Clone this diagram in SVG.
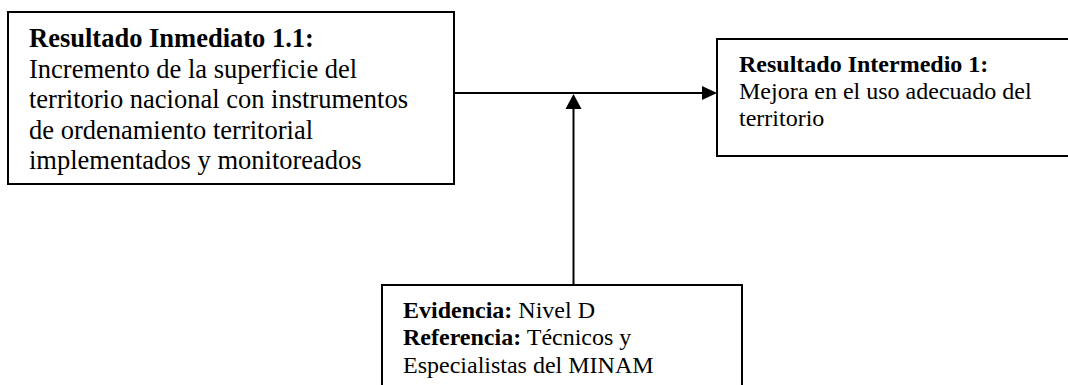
<svg xmlns="http://www.w3.org/2000/svg" width="1068" height="385" viewBox="0 0 1068 385">
<style>
.box{fill:#fff;stroke:#000;stroke-width:2}
.t{font-family:"Liberation Serif","Times New Roman",serif;fill:#000}
.b{font-weight:bold}
.l1{font-size:26.5px}
.l2{font-size:24px}
.con{stroke:#000;stroke-width:2;fill:none}
.ah{fill:#000}
</style>
<rect width="1068" height="385" fill="#fff"/>
<g id="connectors">
<line class="con" x1="454" y1="93" x2="704" y2="93"/>
<polygon class="ah" points="717,93 702,86 702,100"/>
<line class="con" x1="573.5" y1="285" x2="573.5" y2="107"/>
<polygon class="ah" points="573.5,94 565.5,109 581.5,109"/>
</g>
<g id="node-ri11">
<rect class="box" x="8" y="12" width="446" height="172"/>
<text class="t l1"><tspan class="b" x="29" y="47">Resultado Inmediato 1.1:</tspan><tspan x="29" y="77.5">Incremento de la superficie del</tspan><tspan x="29" y="108">territorio nacional con instrumentos</tspan><tspan x="29" y="138.5">de ordenamiento territorial</tspan><tspan x="29" y="169">implementados y monitoreados</tspan></text>
</g>
<g id="node-rint1">
<rect class="box" x="717" y="39" width="360" height="117"/>
<text class="t l2"><tspan class="b" x="739" y="71.5">Resultado Intermedio 1:</tspan><tspan x="739" y="98.5">Mejora en el uso adecuado del</tspan><tspan x="739" y="125.5">territorio</tspan></text>
</g>
<g id="node-evid">
<rect class="box" x="382" y="285" width="360" height="110"/>
<text class="t l2"><tspan x="403" y="317.5"><tspan class="b">Evidencia:</tspan> Nivel D</tspan><tspan x="403" y="345"><tspan class="b">Referencia:</tspan> Técnicos y</tspan><tspan x="403" y="372.5">Especialistas del MINAM</tspan></text>
</g>
</svg>
